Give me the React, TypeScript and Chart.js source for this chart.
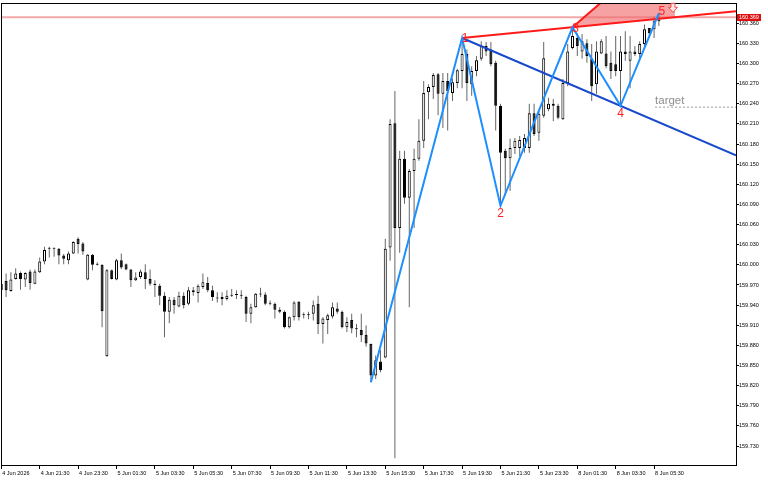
import React, { useEffect, useRef } from "react";
import { Chart, registerables } from "chart.js";

Chart.register(...registerables);

// ---- candle data (M15 bars, index = bar number) ----
const opens = [
  159.972, 159.976, 159.961, 159.979, 159.988, 159.978, 159.99, 159.972, 159.989, 160.005,
  160.024, 160.025, 160.024, 160.014, 160.007, 160.017, 160.039, 160.032, 159.978, 160.015,
  160.001, 160.0, 159.864, 159.992, 159.978, 160.007, 160.001, 159.993, 159.977, 159.982,
  159.989, 159.979, 159.972, 159.969, 159.954, 159.93, 159.948, 159.938, 159.954, 159.942,
  159.962, 159.958, 159.967, 159.973, 159.962, 159.951, 159.952, 159.949, 159.955, 159.956,
  159.954, 159.952, 159.927, 159.937, 159.957, 159.956, 159.943, 159.942, 159.933, 159.93,
  159.907, 159.922, 159.945, 159.926, 159.925, 159.927, 159.942, 159.912, 159.918, 159.923,
  159.935, 159.93, 159.907, 159.918, 159.905, 159.903, 159.896, 159.882, 159.835, 159.856,
  159.862, 160.026, 160.211, 160.055, 160.158, 160.1, 160.14, 160.158, 160.185, 160.257,
  160.265, 160.284, 160.255, 160.274, 160.256, 160.271, 160.289, 160.314, 160.269, 160.289,
  160.307, 160.326, 160.321, 160.301, 160.237, 160.17, 160.159, 160.174, 160.174, 160.174,
  160.174, 160.226, 160.197, 160.222, 160.232, 160.24, 160.237, 160.217, 160.271, 160.323,
  160.338, 160.318, 160.33, 160.307, 160.269, 160.315, 160.315, 160.301, 160.299, 160.289,
  160.318, 160.304, 160.318, 160.314, 160.329, 160.353, 160.351, 160.363,
];
const highs = [
  159.978, 159.987, 159.989, 159.995, 159.99, 159.989, 159.993, 159.993, 160.011, 160.027,
  160.027, 160.026, 160.025, 160.016, 160.02, 160.035, 160.041, 160.034, 160.016, 160.016,
  160.004, 160.001, 159.994, 159.993, 160.009, 160.017, 160.002, 159.994, 159.989, 159.993,
  160.001, 159.993, 159.977, 159.972, 159.959, 159.952, 159.952, 159.96, 159.959, 159.967,
  159.967, 159.971, 159.987, 159.982, 159.969, 159.959, 159.959, 159.962, 159.964, 159.962,
  159.962, 159.954, 159.942, 159.958, 159.966, 159.959, 159.947, 159.944, 159.937, 159.932,
  159.923, 159.946, 159.946, 159.929, 159.93, 159.947, 159.954, 159.922, 159.927, 159.944,
  159.944, 159.932, 159.922, 159.927, 159.912, 159.927, 159.91, 159.883, 159.865, 159.873,
  160.039, 160.217, 160.259, 160.17, 160.17, 160.143, 160.173, 160.217, 160.274, 160.269,
  160.286, 160.286, 160.286, 160.286, 160.278, 160.292, 160.338, 160.321, 160.296, 160.311,
  160.333, 160.332, 160.332, 160.304, 160.24, 160.173, 160.188, 160.189, 160.192, 160.195,
  160.24, 160.24, 160.229, 160.332, 160.249, 160.247, 160.24, 160.277, 160.329, 160.354,
  160.345, 160.344, 160.336, 160.329, 160.333, 160.336, 160.341, 160.318, 160.341, 160.341,
  160.348, 160.341, 160.326, 160.333, 160.358, 160.353, 160.37, 160.375,
];
const lows = [
  159.951, 159.952, 159.96, 159.978, 159.963, 159.967, 159.963, 159.971, 159.988, 160.001,
  160.011, 160.012, 160.001, 160.001, 160.001, 160.016, 160.017, 160.015, 159.977, 159.992,
  159.999, 159.907, 159.863, 159.978, 159.977, 159.994, 159.992, 159.967, 159.976, 159.979,
  159.964, 159.969, 159.952, 159.94, 159.892, 159.913, 159.927, 159.937, 159.935, 159.94,
  159.954, 159.944, 159.964, 159.959, 159.946, 159.944, 159.94, 159.947, 159.952, 159.949,
  159.949, 159.915, 159.913, 159.936, 159.952, 159.94, 159.94, 159.92, 159.928, 159.905,
  159.905, 159.917, 159.917, 159.92, 159.919, 159.917, 159.897, 159.883, 159.897, 159.92,
  159.927, 159.905, 159.9, 159.898, 159.892, 159.885, 159.878, 159.825, 159.83, 159.84,
  159.861, 160.006, 159.712, 160.018, 160.091, 159.937, 160.055, 160.155, 160.174, 160.217,
  160.247, 160.223, 160.204, 160.2, 160.244, 160.263, 160.263, 160.244, 160.252, 160.281,
  160.304, 160.311, 160.296, 160.2, 160.088, 160.103, 160.11, 160.165, 160.162, 160.167,
  160.167, 160.192, 160.185, 160.219, 160.229, 160.214, 160.217, 160.216, 160.266, 160.321,
  160.311, 160.307, 160.301, 160.244, 160.255, 160.314, 160.293, 160.277, 160.281, 160.237,
  160.304, 160.263, 160.311, 160.308, 160.326, 160.338, 160.338, 160.356,
];
const closes = [
  159.962, 159.962, 159.978, 159.987, 159.979, 159.988, 159.973, 159.99, 160.005, 160.022,
  160.025, 160.024, 160.014, 160.009, 160.017, 160.034, 160.031, 160.02, 160.015, 160.0,
  160.0, 159.931, 159.992, 159.979, 160.007, 159.996, 159.993, 159.977, 159.981, 159.99,
  159.979, 159.972, 159.97, 159.954, 159.93, 159.948, 159.94, 159.954, 159.94, 159.962,
  159.959, 159.969, 159.974, 159.962, 159.952, 159.95, 159.949, 159.954, 159.954, 159.955,
  159.955, 159.927, 159.937, 159.957, 159.956, 159.942, 159.942, 159.933, 159.93, 159.907,
  159.922, 159.944, 159.922, 159.925, 159.926, 159.94, 159.912, 159.92, 159.925, 159.937,
  159.93, 159.907, 159.915, 159.905, 159.904, 159.895, 159.883, 159.835, 159.858, 159.843,
  160.024, 160.21, 160.055, 160.158, 160.1, 160.14, 160.158, 160.185, 160.256, 160.265,
  160.283, 160.255, 160.274, 160.259, 160.272, 160.29, 160.314, 160.271, 160.289, 160.305,
  160.326, 160.318, 160.299, 160.237, 160.167, 160.159, 160.174, 160.185, 160.186, 160.189,
  160.226, 160.195, 160.225, 160.308, 160.24, 160.237, 160.219, 160.271, 160.318, 160.341,
  160.326, 160.333, 160.311, 160.266, 160.318, 160.333, 160.296, 160.289, 160.289, 160.318,
  160.314, 160.318, 160.314, 160.329, 160.351, 160.345, 160.363, 160.369,
];

// ---- axes ----
const xTickIndex = [0, 8, 16, 24, 32, 40, 48, 56, 64, 72, 80, 88, 96, 104, 112, 120, 128, 136];
const xTickLabels = [
  "4 Jun 2026", "4 Jun 21:30", "4 Jun 23:30", "5 Jun 01:30", "5 Jun 03:30", "5 Jun 05:30",
  "5 Jun 07:30", "5 Jun 09:30", "5 Jun 11:30", "5 Jun 13:30", "5 Jun 15:30", "5 Jun 17:30",
  "5 Jun 19:30", "5 Jun 21:30", "5 Jun 23:30", "8 Jun 01:30", "8 Jun 03:30", "8 Jun 05:30",
];
const yTickValues = [
  159.73, 159.76, 159.79, 159.82, 159.85, 159.88, 159.91, 159.94, 159.97, 160.0, 160.03,
  160.06, 160.09, 160.12, 160.15, 160.18, 160.21, 160.24, 160.27, 160.3, 160.33, 160.36,
];
const X_MIN = -0.06;
const X_MAX = 153.065;
const Y_MIN = 159.7018;
const Y_MAX = 160.3897;

// ---- pattern objects ----
const zigzagIndex = [77, 96, 104, 119, 129, 137];
const zigzagLabels = ["", "1", "2", "3", "4", "5"];
const bidPrice = 160.369;
const targetPrice = 160.235;
const targetStartIndex = 136.2;
const patternEndIndex = 140.35;
const steepSlope = 0.00618; // price per bar of the rising edge from point 3

const zzPrices = zigzagIndex.map((idx, k) => (k % 2 === 0 ? lows[idx] : highs[idx]));
const p1 = { x: zigzagIndex[1], y: zzPrices[1] };
const p3 = { x: zigzagIndex[3], y: zzPrices[3] };
const p4 = { x: zigzagIndex[4], y: zzPrices[4] };
const lineAt = (a: { x: number; y: number }, b: { x: number; y: number }, x: number) =>
  a.y + ((b.y - a.y) / (b.x - a.x)) * (x - a.x);

const redTrend = [p1, { x: X_MAX, y: lineAt(p1, p3, X_MAX) }];
const blueTrend = [p1, { x: X_MAX, y: lineAt(p1, p4, X_MAX) }];
const apex = { x: patternEndIndex, y: p3.y + steepSlope * (patternEndIndex - p3.x) };
const steepLine = [p3, apex];
const patternFill = [p3, apex, { x: patternEndIndex, y: lineAt(p1, p3, patternEndIndex) }];

const idx = opens.map((_, i) => i);
const wickData = idx.map((i) => ({ x: i, y: [lows[i], highs[i]] }));
const bodyData = idx.map((i) => ({ x: i, y: [opens[i], closes[i]] }));
const bodyColors = idx.map((i) => (closes[i] >= opens[i] ? "#ffffff" : "#000000"));
const zigzagData = zigzagIndex.map((x, k) => ({ x, y: zzPrices[k] }));

const FONT = "'Liberation Sans', Arial, sans-serif";

const overlayPlugin = {
  id: "overlay",
  beforeDatasetsDraw(chart: any) {
    const { ctx, chartArea: a, scales } = chart;
    const xs = scales.x;
    const ys = scales.y;
    ctx.save();
    ctx.beginPath();
    ctx.rect(a.left, a.top, a.right - a.left, a.bottom - a.top);
    ctx.clip();
    ctx.fillStyle = "#f6a2a2";
    ctx.beginPath();
    patternFill.forEach((pt, k) => {
      const px = xs.getPixelForValue(pt.x);
      const py = ys.getPixelForValue(pt.y);
      if (k === 0) ctx.moveTo(px, py);
      else ctx.lineTo(px, py);
    });
    ctx.closePath();
    ctx.fill();
    ctx.restore();
  },
  afterDraw(chart: any) {
    const { ctx, chartArea: a, scales } = chart;
    const xs = scales.x;
    const ys = scales.y;
    ctx.save();
    // frame
    ctx.strokeStyle = "#000";
    ctx.lineWidth = 1;
    ctx.strokeRect(Math.floor(a.left) + 0.5, Math.floor(a.top) + 0.5, Math.round(a.right - a.left), Math.round(a.bottom - a.top));

    // bid label
    const by = ys.getPixelForValue(bidPrice);
    ctx.fillStyle = "#dd1111";
    ctx.fillRect(a.right + 1, Math.round(by - 3.5), 24, 7);
    ctx.fillStyle = "#fff";
    ctx.font = `5.5px ${FONT}`;
    ctx.textAlign = "left";
    ctx.textBaseline = "middle";
    ctx.fillText(bidPrice.toFixed(3), a.right + 3, by + 0.3);

    // zigzag point labels
    ctx.font = `12px ${FONT}`;
    ctx.fillStyle = "#ff2222";
    ctx.textAlign = "center";
    zigzagIndex.forEach((xi, k) => {
      const lbl = zigzagLabels[k];
      if (!lbl) return;
      const px = xs.getPixelForValue(xi);
      const py = ys.getPixelForValue(zzPrices[k]);
      if (k % 2 === 0) ctx.fillText(lbl, px, py + 8);
      else ctx.fillText(lbl, px + 3, py + (k === 5 ? -1 : 1));
    });

    // target
    const tx = xs.getPixelForValue(targetStartIndex);
    const ty = ys.getPixelForValue(targetPrice);
    ctx.fillStyle = "#8e8e8e";
    ctx.font = `11.5px ${FONT}`;
    ctx.textAlign = "left";
    ctx.fillText("target", tx, ty - 6);

    // hollow down arrow
    const ax = xs.getPixelForValue(patternEndIndex) - 2;
    const at = a.top;
    ctx.beginPath();
    ctx.moveTo(ax - 2, at);
    ctx.lineTo(ax - 2, at + 4);
    ctx.lineTo(ax - 4.5, at + 4);
    ctx.lineTo(ax, at + 9);
    ctx.lineTo(ax + 4.5, at + 4);
    ctx.lineTo(ax + 2, at + 4);
    ctx.lineTo(ax + 2, at);
    ctx.closePath();
    ctx.fillStyle = "rgba(255,235,235,0.9)";
    ctx.fill();
    ctx.strokeStyle = "#f05050";
    ctx.stroke();
    ctx.restore();
  },
};

export default function App() {
  const ref = useRef<HTMLCanvasElement>(null);
  useEffect(() => {
    document.body.style.margin = "0";
    const canvas = ref.current;
    if (!canvas) return;
    const chart = new Chart(canvas, {
      type: "bar",
      data: {
        datasets: [
          {
            type: "line",
            data: zigzagData,
            borderColor: "#1e8fff",
            borderWidth: 2,
            pointRadius: 0,
            fill: false,
            tension: 0,
            order: 0,
          } as any,
          {
            type: "line",
            data: redTrend,
            borderColor: "#ff1a1a",
            borderWidth: 2,
            pointRadius: 0,
            fill: false,
            order: 0,
          } as any,
          {
            type: "line",
            data: steepLine,
            borderColor: "#ff1a1a",
            borderWidth: 2,
            pointRadius: 0,
            fill: false,
            order: 0,
          } as any,
          {
            type: "line",
            data: blueTrend,
            borderColor: "#1848cc",
            borderWidth: 2,
            pointRadius: 0,
            fill: false,
            order: 0,
          } as any,
          {
            type: "line",
            data: [
              { x: X_MIN, y: bidPrice },
              { x: X_MAX, y: bidPrice },
            ],
            borderColor: "rgba(235,110,110,0.6)",
            borderWidth: 2,
            pointRadius: 0,
            fill: false,
            order: 1,
          } as any,
          {
            type: "line",
            data: [
              { x: targetStartIndex, y: targetPrice },
              { x: X_MAX, y: targetPrice },
            ],
            borderColor: "#9a9a9a",
            borderWidth: 1,
            borderDash: [2, 2],
            pointRadius: 0,
            fill: false,
            order: 1,
          } as any,
          {
            type: "bar",
            data: bodyData,
            backgroundColor: bodyColors,
            borderColor: "#000",
            borderWidth: 1,
            borderSkipped: false,
            barThickness: 3,
            grouped: false,
            inflateAmount: 0,
            minBarLength: 1,
            order: 2,
          } as any,
          {
            type: "bar",
            data: wickData,
            backgroundColor: "#666666",
            borderWidth: 0,
            barThickness: 1,
            grouped: false,
            inflateAmount: 0,
            order: 3,
          } as any,
        ],
      },
      options: {
        responsive: false,
        animation: false,
        devicePixelRatio: 1,
        layout: { padding: { left: 1, top: 2, right: 0, bottom: 0 } },
        plugins: { legend: { display: false }, tooltip: { enabled: false } },
        scales: {
          x: {
            type: "linear",
            offset: false,
            min: X_MIN,
            max: X_MAX,
            position: "bottom",
            border: { display: false },
            grid: { display: true, offset: false, drawOnChartArea: false, drawTicks: true, tickLength: 4, color: "#000" },
            ticks: {
              autoSkip: false,
              maxRotation: 0,
              minRotation: 0,
              align: "start",
              labelOffset: 1,
              padding: 1,
              color: "#000",
              font: { family: FONT, size: 5.5 },
              callback: (value: any) => {
                const k = xTickIndex.indexOf(Math.round(Number(value)));
                return k >= 0 ? xTickLabels[k] : "";
              },
            },
            afterBuildTicks: (axis: any) => {
              axis.ticks = xTickIndex.map((v) => ({ value: v }));
            },
            afterFit: (axis: any) => {
              axis.height = 15;
            },
          },
          y: {
            type: "linear",
            min: Y_MIN,
            max: Y_MAX,
            position: "right",
            border: { display: false },
            grid: { display: true, drawOnChartArea: false, drawTicks: true, tickLength: 3, color: "#000" },
            ticks: {
              autoSkip: false,
              padding: 0,
              color: "#000",
              font: { family: FONT, size: 5.5 },
              callback: (value: any) => Number(value).toFixed(3),
            },
            afterBuildTicks: (axis: any) => {
              axis.ticks = yTickValues.map((v) => ({ value: v }));
            },
            afterFit: (axis: any) => {
              axis.width = 32;
            },
          },
        },
      } as any,
      plugins: [overlayPlugin],
    });
    return () => chart.destroy();
  }, []);
  return (
    <div style={{ position: "absolute", left: 0, top: 0, width: 768, height: 480, background: "#fff" }}>
      <canvas ref={ref} width={768} height={480} style={{ display: "block", width: 768, height: 480 }} />
    </div>
  );
}
